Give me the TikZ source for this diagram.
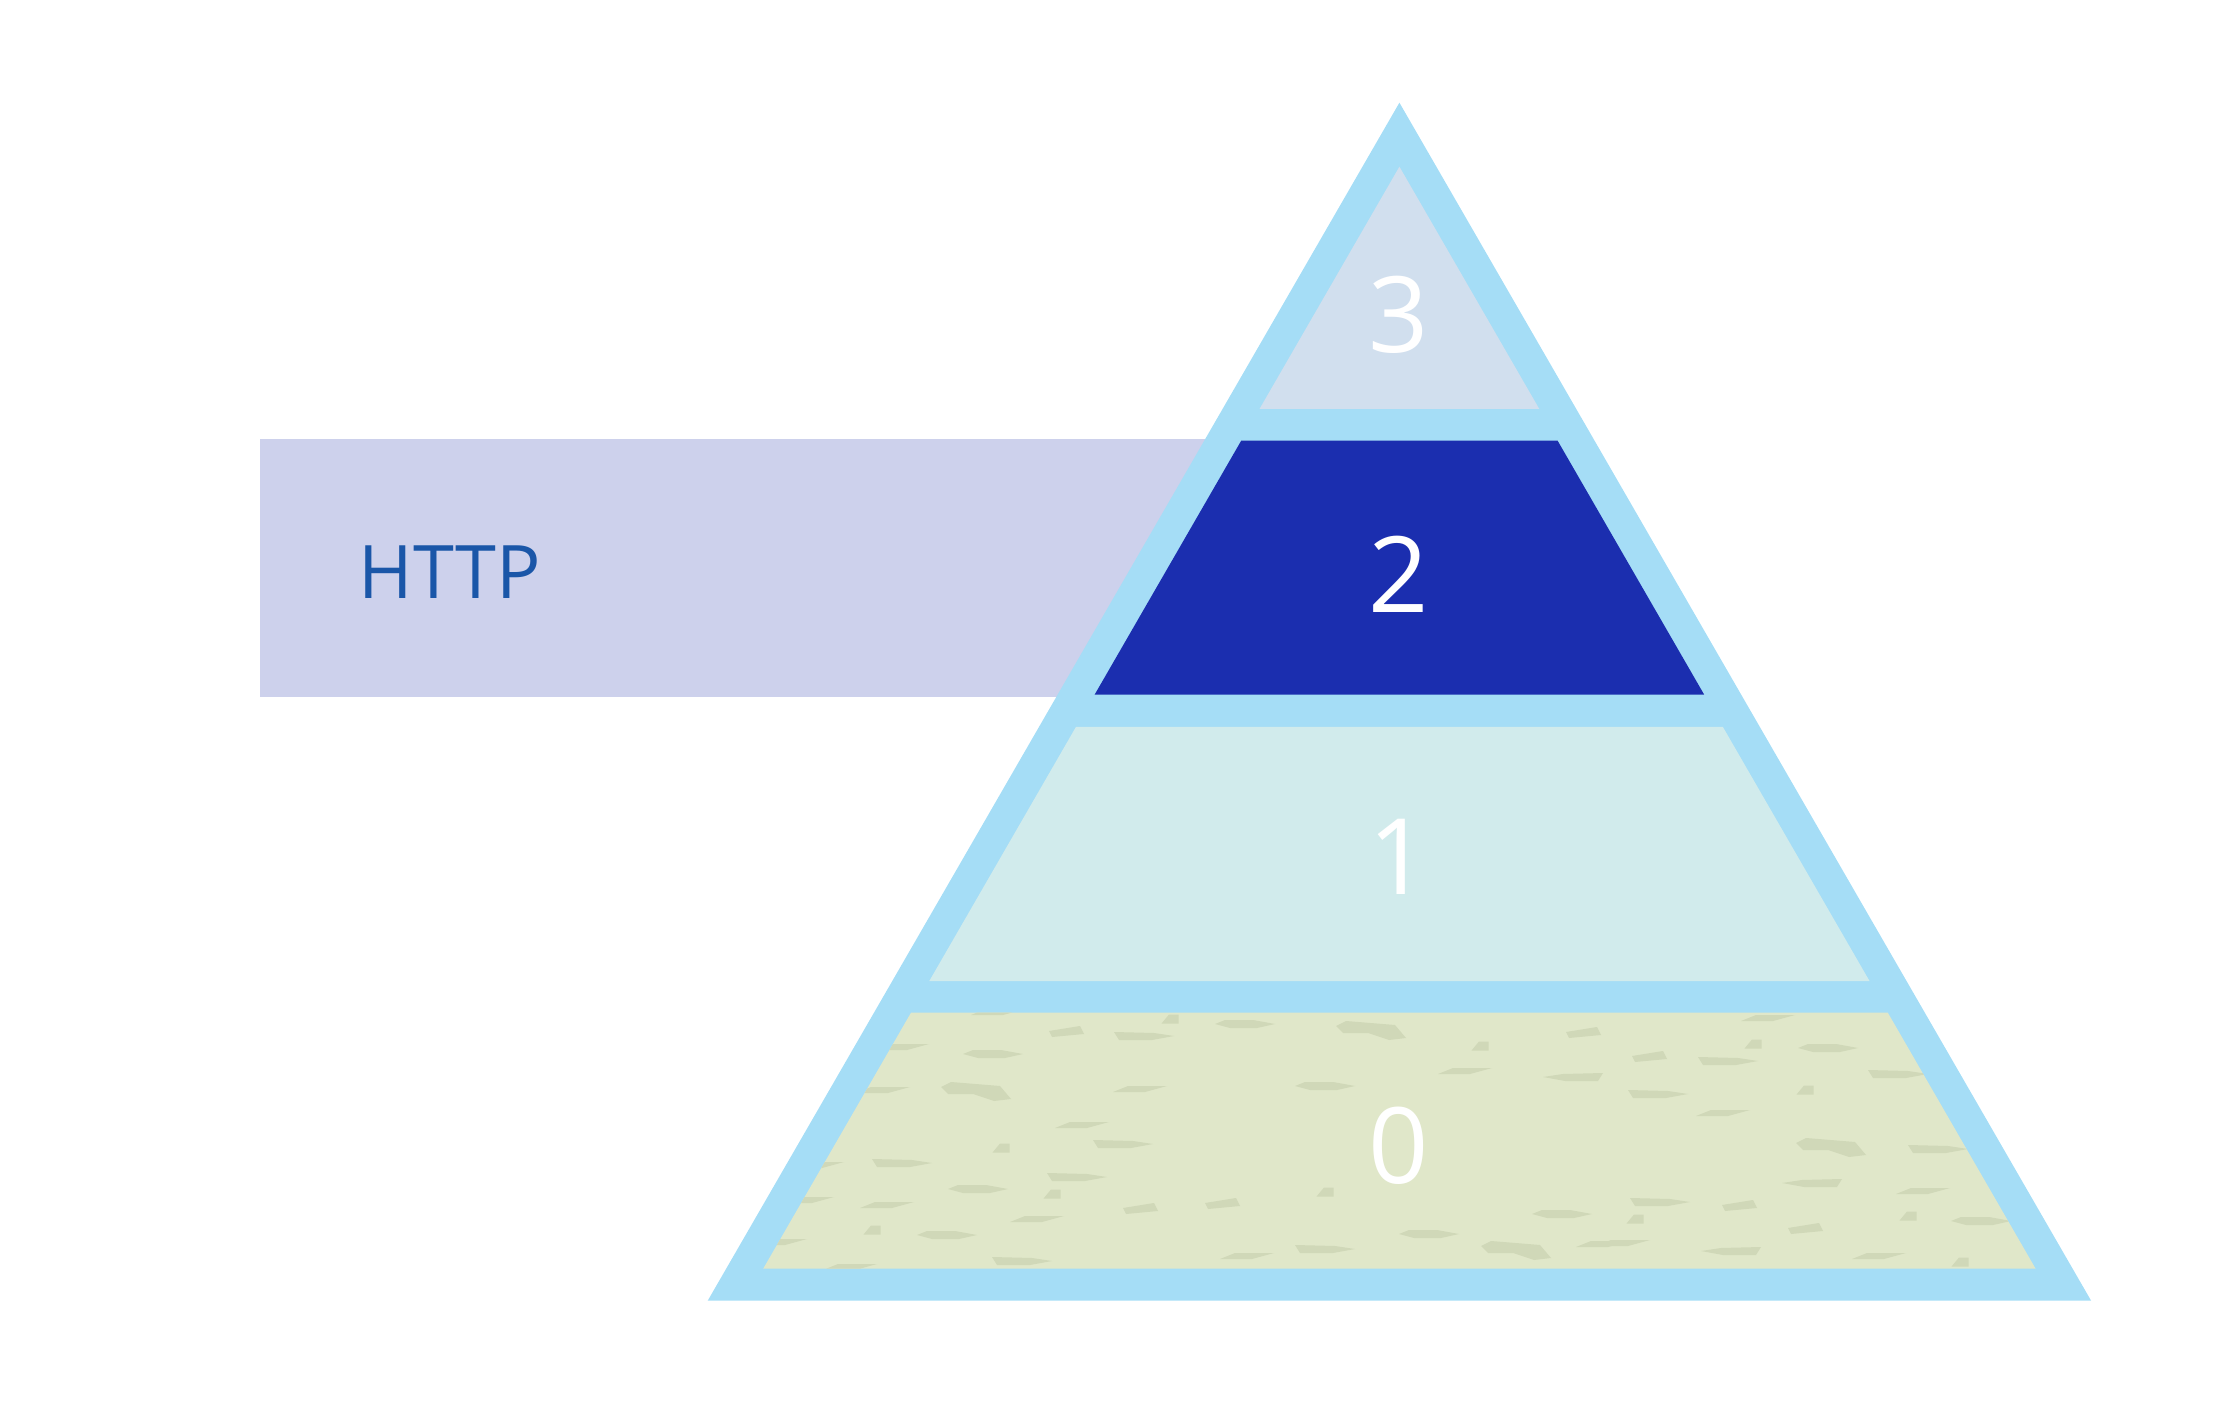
\documentclass[tikz,border=0pt]{standalone}
\usepackage{fontspec}
\setmainfont{Open Sans}
\usetikzlibrary{positioning}
\definecolor{frameblue}{HTML}{A5DDF6}
\definecolor{topgrey}{HTML}{D1DFEE}
\definecolor{httpblue}{HTML}{1B2EAF}
\definecolor{midcyan}{HTML}{D1EBEC}
\definecolor{sandgreen}{HTML}{E0E7C9}
\definecolor{speckgreen}{HTML}{D0D8B8}
\definecolor{boxlilac}{HTML}{CDD1EC}
\definecolor{labelblue}{HTML}{1A56A8}
\tikzset{
  speck/.style={fill=speckgreen},
  digit/.style={text=white, inner sep=0pt, font=\fontsize{30}{36}\selectfont},
  hexspk/.pic={\fill[speck] (-30,0) -- (-20,-4) -- (8,-4) -- (30,0) -- (12,4) -- (-15,4) -- cycle;},
  quadspk/.pic={\fill[speck] (-8.5,4.5) -- (-1,-4.5) -- (8.5,-4.5) -- (8.5,4.5) -- cycle;},
  tiltspk/.pic={\fill[speck] (-17,-1) -- (14,-6) -- (18,2) -- (-14,5) -- cycle;},
  trapspk/.pic={\fill[speck] (-30,-4) -- (-25,4) -- (8,4) -- (30,0) -- (10,-3) -- cycle;},
  slvspk/.pic={\fill[speck] (-27,3) -- (-12,-3) -- (27,-3) -- (5,3) -- cycle;},
  blobspk/.pic={\fill[speck] (-34,-4) -- (-24,-9) -- (25,-5) -- (36,8) -- (19,10) -- (-2,3) -- (-27,3) -- cycle;}
}
\begin{document}
\begin{tikzpicture}[x=0.01cm, y=-0.01cm]
\useasboundingbox (0,0) rectangle (2239,1413);
% label strip behind the pyramid
\fill[boxlilac] (260,439) rectangle (1300,697);
\node[anchor=west, inner sep=0pt, text=labelblue, font=\fontsize{21}{25}\selectfont] (http) at (358,572) {HTTP};
% outer frame
\fill[frameblue] (1399.4,102.7) -- (2091.1,1300.7) -- (707.7,1300.7) -- cycle;
% layers
\fill[topgrey] (1399.4,166.7) -- (1539.3,409) -- (1259.5,409) -- cycle;
\fill[httpblue] (1241.2,440.7) -- (1557.6,440.7) -- (1704.2,694.7) -- (1094.6,694.7) -- cycle;
\fill[midcyan] (1075.9,727) -- (1722.9,727) -- (1869.5,981) -- (929.3,981) -- cycle;
\fill[sandgreen] (911,1012.7) -- (1887.8,1012.7) -- (2035.6,1268.7) -- (763.2,1268.7) -- cycle;
\begin{scope}
\clip (911,1012.7) -- (1887.8,1012.7) -- (2035.6,1268.7) -- (763.2,1268.7) -- cycle;
\foreach \x/\y in {993/1054, 978/1189, 947/1235, 1245/1024, 1325/1086, 1562/1214, 1429/1234, 1828/1048, 1981/1221}
  \pic at (\x,\y) {hexspk};
\foreach \x/\y in {1170/1019, 1001/1148, 1052/1194, 872/1230, 1480/1046, 1325/1192, 1753/1044, 1805/1090, 1635/1219, 1908/1216, 1960/1262}
  \pic at (\x,\y) {quadspk};
\foreach \x/\y in {1066/1032, 1140/1209, 1583/1033, 1222/1204, 1649/1057, 1739/1206, 1805/1229}
  \pic at (\x,\y) {tiltspk};
\foreach \x/\y in {1144/1036, 1123/1144, 902/1163, 1077/1177, 1022/1261, 1325/1249, 1728/1061, 1898/1074, 1658/1094, 1938/1149, 1660/1202}
  \pic at (\x,\y) {trapspk};
\foreach \x/\y in {1573/1077, 1812/1183, 1731/1251}
  \pic[xscale=-1] at (\x,\y) {trapspk};
\foreach \x/\y in {902/1047, 883/1090, 1140/1089, 1082/1125, 887/1205, 1037/1219, 1465/1071, 1247/1256, 1768/1018, 1723/1113, 1923/1191, 1623/1243, 1879/1256, 817/1165, 807/1200, 780/1242, 850/1267, 1603/1244, 998/1012}
  \pic at (\x,\y) {slvspk};
\foreach \x/\y in {975/1091, 1370/1030, 1515/1250, 1830/1147}
  \pic at (\x,\y) {blobspk};
\end{scope}
% layer numbers
\node[digit] (three) at (1399,315) {3};
\node[digit] (two) at (1399,574) {2};
\node[digit] (one) at (1399,857) {1};
\node[digit] (zero) at (1399,1146) {0};
\end{tikzpicture}
\end{document}
